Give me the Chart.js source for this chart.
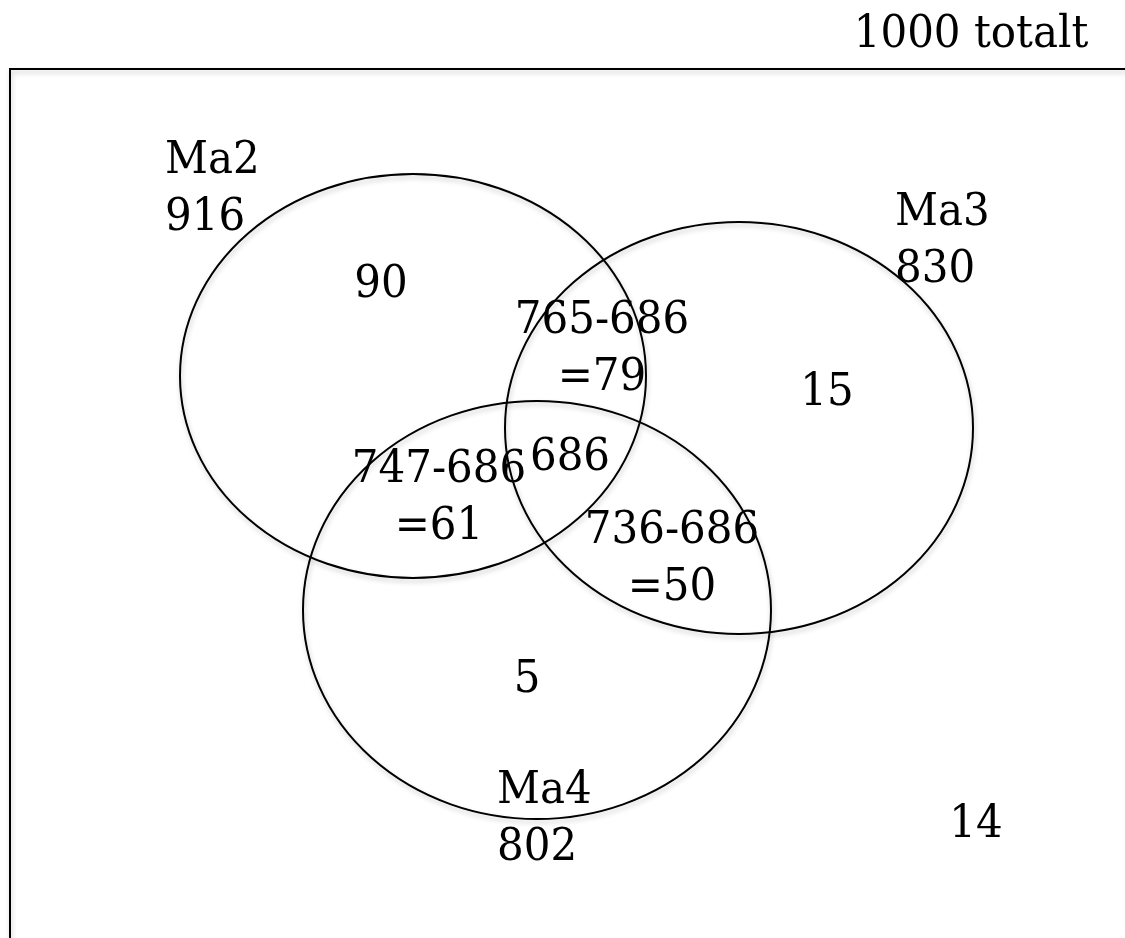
<!DOCTYPE html>
<html>
<head>
<meta charset="utf-8">
<script src="https://cdn.jsdelivr.net/npm/chart.js@4.4.1/dist/chart.umd.min.js"></script>
<style>
  html, body { margin: 0; padding: 0; background: #fff; }
  #wrap { width: 1125px; height: 938px; }
</style>
</head>
<body>
<div id="wrap"><canvas id="venn" width="1125" height="938"></canvas></div>
<script>
// data
const setNames = ['Ma2', 'Ma3', 'Ma4'];
const setTotals = [916, 830, 802];
const grandTotal = 1000;
const onlyCounts = [90, 15, 5];                 // Ma2 only, Ma3 only, Ma4 only
const pairNames = ['Ma2+Ma3', 'Ma2+Ma4', 'Ma3+Ma4'];
const pairTotals = [765, 747, 736];
const allThree = 686;
const outside = 14;

// layout (in the chart's own units)
const universe = { x0: 10, y0: 69, x1: 1140, y1: 950 };
const ellipses = [
    { cx: 413, cy: 376, rx: 233, ry: 202 },
    { cx: 739, cy: 428, rx: 234, ry: 206 },
    { cx: 537, cy: 610, rx: 234, ry: 209 }
];
const setLabelPos = [{ x: 165, y: 173 }, { x: 895, y: 225 }, { x: 497, y: 803 }];
const onlyPos = [{ x: 381, y: 297 }, { x: 827, y: 405 }, { x: 527, y: 692 }];
const pairPos = [{ x: 602, y: 333 }, { x: 439, y: 482 }, { x: 672, y: 543 }];
const centerPos = { x: 570, y: 470 };
const outsidePos = { x: 976, y: 837 };
const totalPos = { x: 971, y: 47 };
const lineGap = 56;

const FONT = '42px "DejaVu Serif"';
const STRETCH = 1.08; // glyphs of the original face are a bit taller

const vennPlugin = {
    id: 'venn',
    afterDatasetsDraw(chart) {
        const ctx = chart.ctx;
        const xs = chart.scales.x, ys = chart.scales.y;
        const px = v => xs.getPixelForValue(v);
        const py = v => ys.getPixelForValue(v);

        ctx.save();
        ctx.shadowColor = 'rgba(0,0,0,0.22)';
        ctx.shadowBlur = 5;
        ctx.shadowOffsetX = 1;
        ctx.shadowOffsetY = 3;
        ctx.strokeStyle = '#000';

        // universe box
        ctx.lineWidth = 2;
        ctx.strokeRect(px(universe.x0), py(universe.y0), px(universe.x1) - px(universe.x0), py(universe.y1) - py(universe.y0));

        // set ellipses
        ctx.lineWidth = 2;
        chart.data.datasets.forEach((ds, i) => {
            const e = ellipses[i];
            const cx = px(e.cx), cy = py(e.cy);
            const rx = Math.abs(px(e.cx + e.rx) - cx);
            const ry = Math.abs(py(e.cy + e.ry) - cy);
            ctx.beginPath();
            ctx.ellipse(cx, cy, rx, ry, 0, 0, Math.PI * 2);
            ctx.stroke();
        });
        ctx.restore();

        // texts
        ctx.save();
        ctx.fillStyle = '#000';
        ctx.font = FONT;
        ctx.textBaseline = 'alphabetic';

        const txt = (s, p, align, dy) => {
            ctx.save();
            ctx.textAlign = align;
            ctx.translate(px(p.x), py(p.y + (dy || 0)));
            ctx.scale(1, STRETCH);
            ctx.fillText(s, 0, 0);
            ctx.restore();
        };

        txt(grandTotal + ' totalt', totalPos, 'center');

        setNames.forEach((n, i) => {
            txt(n, setLabelPos[i], 'left');
            txt(String(setTotals[i]), setLabelPos[i], 'left', lineGap + 1);
            txt(String(onlyCounts[i]), onlyPos[i], 'center');
            txt(pairTotals[i] + '-' + allThree, pairPos[i], 'center');
            txt('=' + (pairTotals[i] - allThree), pairPos[i], 'center', lineGap + 1);
        });

        txt(String(allThree), centerPos, 'center');
        txt(String(outside), outsidePos, 'center');
        ctx.restore();
    }
};

new Chart(document.getElementById('venn'), {
    type: 'scatter',
    data: {
        datasets: setNames.map((n, i) => ({
            label: n,
            data: [{ x: ellipses[i].cx, y: ellipses[i].cy }],
            pointRadius: 0
        }))
    },
    options: {
        responsive: false,
        animation: false,
        devicePixelRatio: 1,
        layout: { padding: 0 },
        scales: {
            x: { type: 'linear', min: 0, max: 1125, display: false },
            y: { type: 'linear', min: 0, max: 938, reverse: true, display: false }
        },
        plugins: { legend: { display: false }, tooltip: { enabled: false } }
    },
    plugins: [vennPlugin]
});
</script>
</body>
</html>
